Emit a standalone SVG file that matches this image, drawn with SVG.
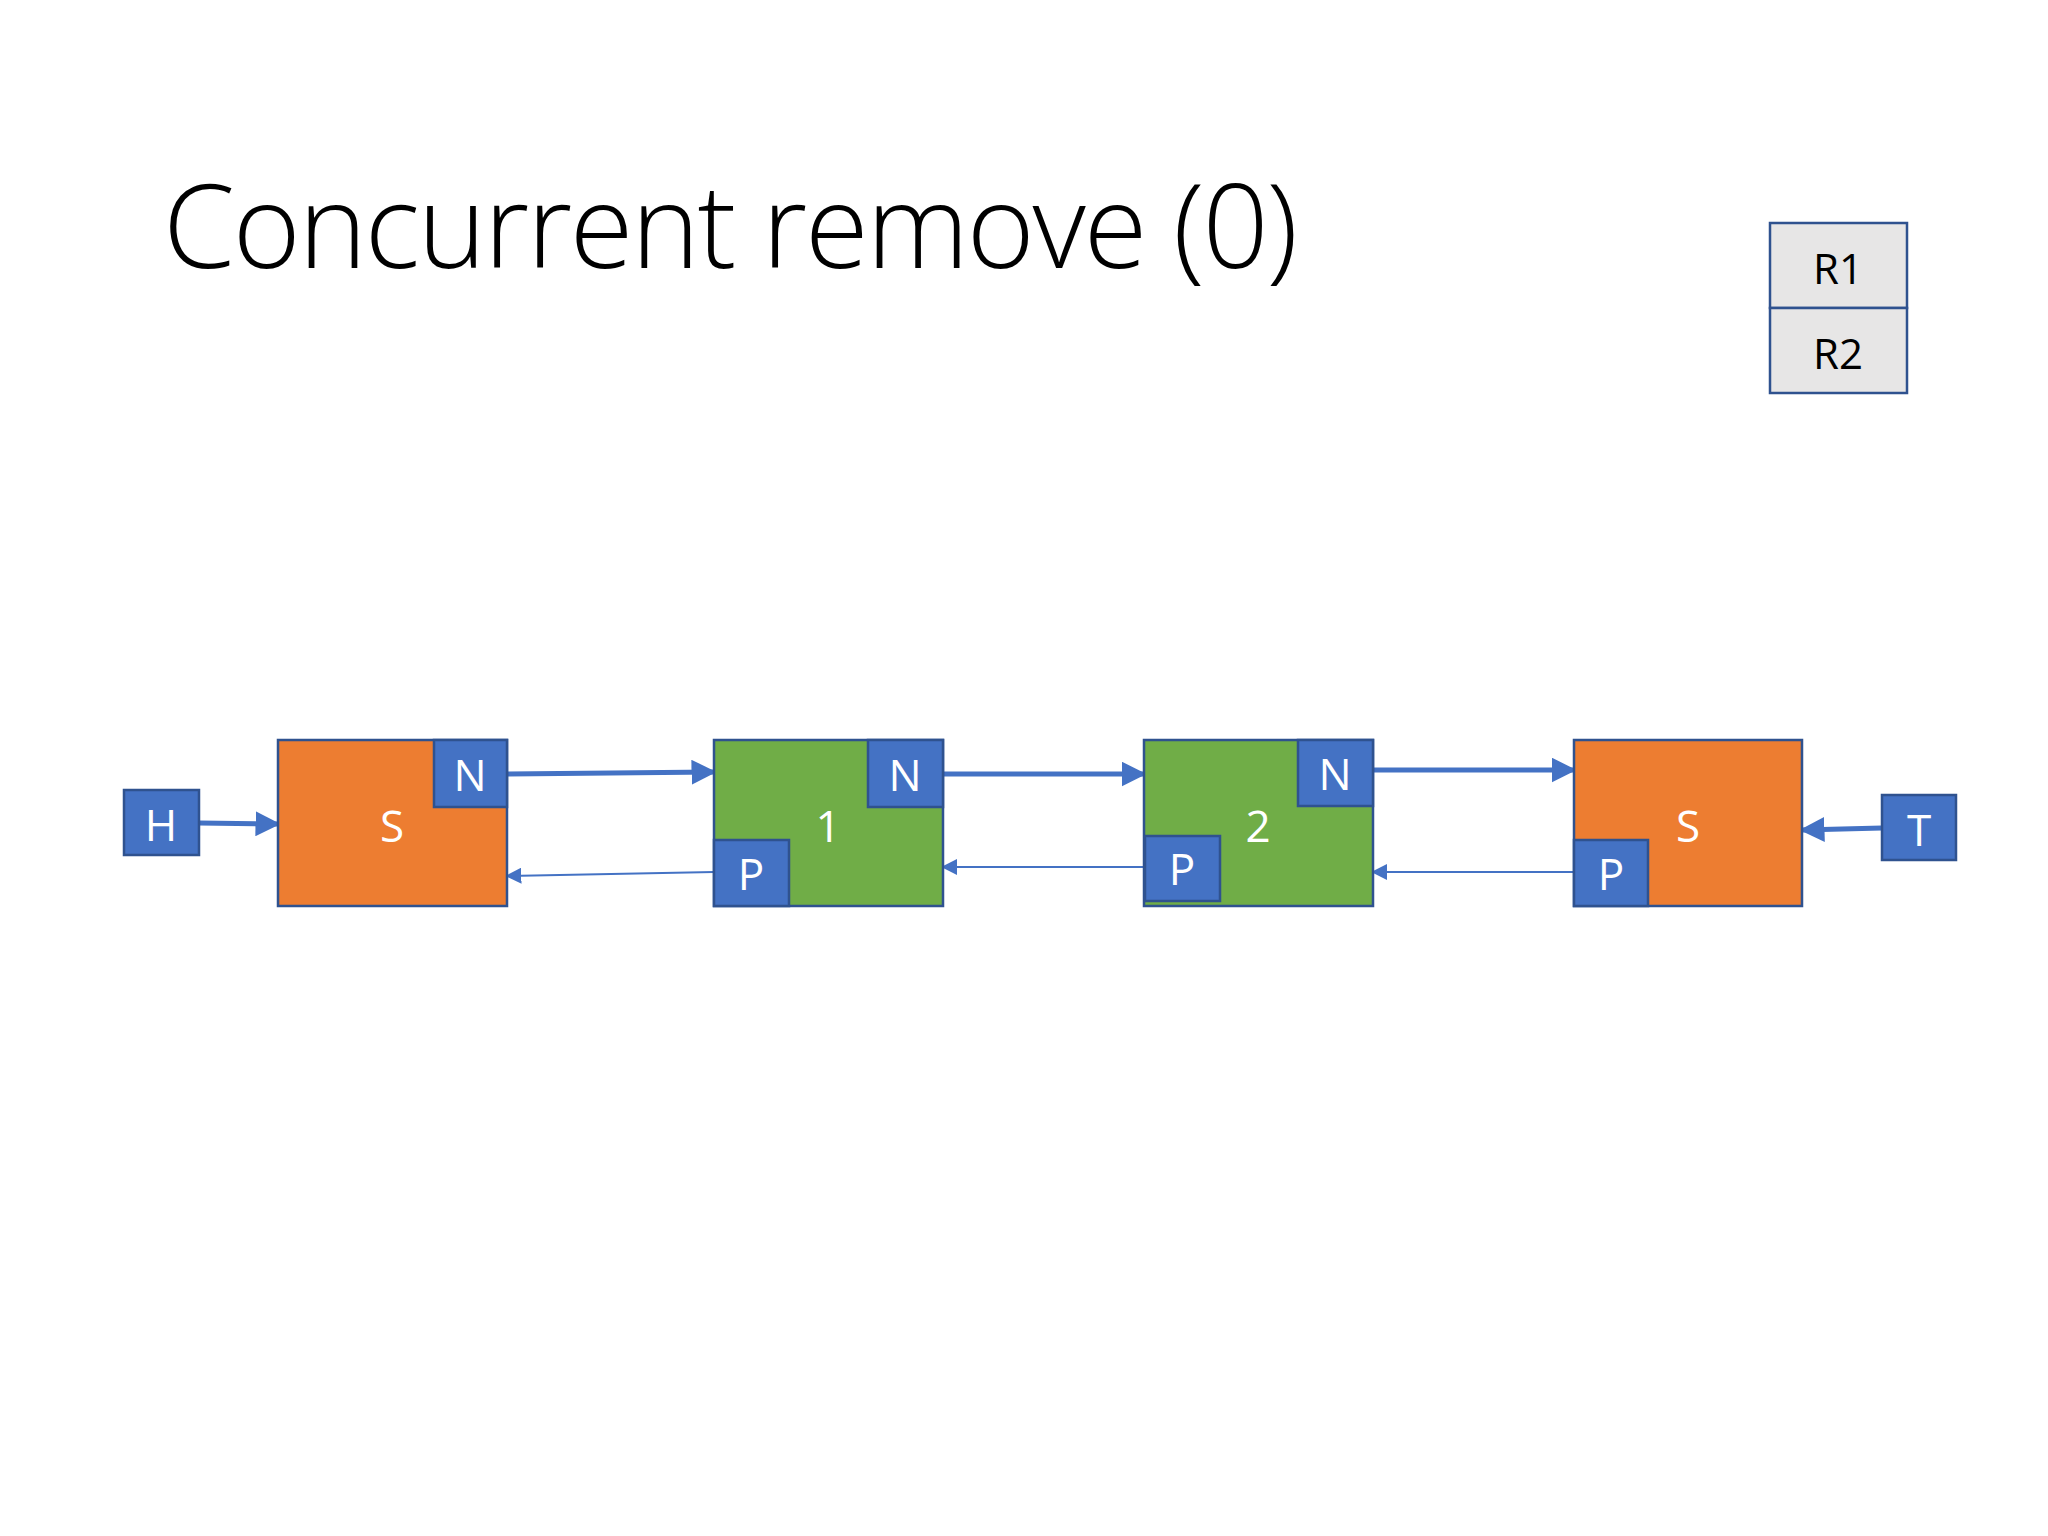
<svg xmlns="http://www.w3.org/2000/svg" width="2048" height="1536" viewBox="0 0 2048 1536">
<style>
.o{fill:#ed7d31;stroke:#2f528f;stroke-width:2.5}
.g{fill:#70ad47;stroke:#2f528f;stroke-width:2.5}
.b{fill:#4472c4;stroke:#2f528f;stroke-width:2.5}
.r{fill:#e7e6e6;stroke:#2f528f;stroke-width:2.5}
.t{font-family:"Open Sans","Noto Sans",sans-serif;font-size:44px;fill:#fff;text-anchor:middle;dominant-baseline:central}
.k{font-family:"Open Sans","Noto Sans",sans-serif;font-size:42px;fill:#000;text-anchor:middle;dominant-baseline:central}
.thick{stroke:#4472c4;stroke-width:5;fill:none;marker-end:url(#ah)}
.thin{stroke:#4472c4;stroke-width:1.8;fill:none;marker-end:url(#as)}
</style>
<defs>
<marker id="ah" markerWidth="5" markerHeight="5" refX="4.5" refY="2.5" orient="auto" markerUnits="strokeWidth"><path d="M0,0 L5,2.5 L0,5 z" fill="#4472c4"/></marker>
<marker id="as" markerWidth="9" markerHeight="9" refX="8" refY="4.5" orient="auto" markerUnits="strokeWidth"><path d="M0,0 L9,4.5 L0,9 z" fill="#4472c4"/></marker>
</defs>
<rect width="2048" height="1536" fill="#fff"/>
<text x="163" y="268" font-family="Open Sans, Noto Sans, sans-serif" font-weight="300" font-size="116" fill="#000" textLength="1135">Concurrent remove (0)</text>
<g id="R"><rect class="r" x="1770" y="223" width="137" height="85"/><text class="k" x="1838" y="267">R1</text><rect class="r" x="1770" y="308" width="137" height="85"/><text class="k" x="1838" y="352">R2</text></g>
<g id="connectors">
<line class="thick" x1="199" y1="823" x2="278" y2="824"/>
<line class="thick" x1="507" y1="774" x2="714" y2="772"/>
<line class="thick" x1="943" y1="774" x2="1144" y2="774"/>
<line class="thick" x1="1373" y1="770" x2="1574" y2="770"/>
<line class="thick" x1="1882" y1="828" x2="1802" y2="830"/>
<line class="thin" x1="714" y1="872" x2="507" y2="876"/>
<line class="thin" x1="1144" y1="867" x2="943" y2="867"/>
<line class="thin" x1="1574" y1="872" x2="1373" y2="872"/>
</g>
<g id="S1"><rect class="o" x="278" y="740" width="229" height="166"/><text class="t" x="392" y="825">S</text><rect class="b" x="434" y="740" width="73" height="67"/><text class="t" x="470" y="774">N</text></g>
<g id="n1"><rect class="g" x="714" y="740" width="229" height="166"/><text class="t" x="828" y="825">1</text><rect class="b" x="868" y="740" width="75" height="67"/><text class="t" x="905" y="774">N</text><rect class="b" x="714" y="840" width="75" height="66"/><text class="t" x="751" y="873">P</text></g>
<g id="n2"><rect class="g" x="1144" y="740" width="229" height="166"/><text class="t" x="1258" y="825">2</text><rect class="b" x="1298" y="740" width="75" height="66"/><text class="t" x="1335" y="773">N</text><rect class="b" x="1145" y="836" width="75" height="65"/><text class="t" x="1182" y="868">P</text></g>
<g id="S2"><rect class="o" x="1574" y="740" width="228" height="166"/><text class="t" x="1688" y="825">S</text><rect class="b" x="1574" y="840" width="74" height="66"/><text class="t" x="1611" y="873">P</text></g>
<g id="H"><rect class="b" x="124" y="790" width="75" height="65"/><text class="t" x="161" y="824">H</text></g>
<g id="T"><rect class="b" x="1882" y="795" width="74" height="65"/><text class="t" x="1919" y="829">T</text></g>
</svg>
